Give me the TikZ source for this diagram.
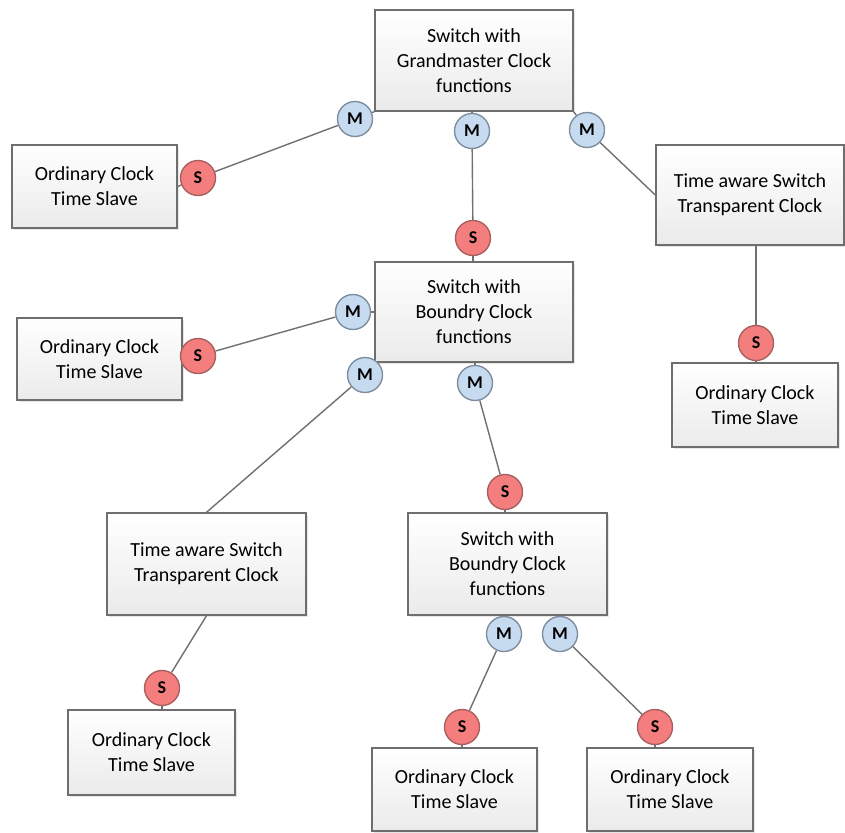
\documentclass[tikz,border=0pt]{standalone}
\usepackage{fontspec}
\setmainfont{Carlito}
\usetikzlibrary{shadows}
\pgfdeclarelayer{bg}
\pgfsetlayers{bg,main}
\definecolor{boxline}{HTML}{6E6E6E}
\definecolor{mfill}{HTML}{C7DBF0}
\definecolor{mline}{HTML}{7F8E9E}
\definecolor{sfill}{HTML}{F47E7E}
\definecolor{sline}{HTML}{A86060}
\definecolor{conn}{HTML}{707070}
\begin{document}
\begin{tikzpicture}[x=1pt,y=-1pt,
  clockbox/.style={draw=boxline, line width=1.4pt, top color=white, bottom color=gray!16,
    minimum width=#1, align=center, inner sep=0pt,
    font=\fontsize{20}{25}\selectfont,
    drop shadow={opacity=0.2, shadow xshift=1.5pt, shadow yshift=-1.5pt}},
  mport/.style={circle, draw=mline, line width=1.4pt, fill=mfill, minimum size=35pt, inner sep=0pt,
    font=\fontsize{18}{18}\selectfont\bfseries},
  sport/.style={circle, draw=sline, line width=1.4pt, fill=sfill, minimum size=35pt, inner sep=0pt,
    font=\fontsize{18}{18}\selectfont\bfseries},
  link/.style={draw=conn, line width=1.4pt}]
\useasboundingbox (0,0) rectangle (845,832);
% boxes
\node[clockbox=198pt, minimum height=101pt] (gm) at (474,60.5) {Switch with\\Grandmaster Clock\\functions};
\node[clockbox=165pt, minimum height=83pt] (oc1) at (94.5,186.5) {Ordinary Clock\\Time Slave};
\node[clockbox=188pt, minimum height=100pt] (ta1) at (750,195) {Time aware Switch\\Transparent Clock};
\node[clockbox=198pt, minimum height=100pt] (bc1) at (474,312) {Switch with\\Boundry Clock\\functions};
\node[clockbox=165pt, minimum height=82pt] (oc2) at (99.5,359) {Ordinary Clock\\Time Slave};
\node[clockbox=166pt, minimum height=84pt] (oc3) at (755,405) {Ordinary Clock\\Time Slave};
\node[clockbox=199pt, minimum height=102pt] (ta2) at (206.5,564) {Time aware Switch\\Transparent Clock};
\node[clockbox=199pt, minimum height=102pt] (bc2) at (507.5,564) {Switch with\\Boundry Clock\\functions};
\node[clockbox=167pt, minimum height=85pt] (oc4) at (151.5,752.5) {Ordinary Clock\\Time Slave};
\node[clockbox=165pt, minimum height=83pt] (oc5) at (454.5,789.5) {Ordinary Clock\\Time Slave};
\node[clockbox=166pt, minimum height=83pt] (oc6) at (670,789.5) {Ordinary Clock\\Time Slave};
% ports
\node[mport] (m1) at (355,119) {M};
\node[mport] (m2) at (472,131) {M};
\node[mport] (m3) at (587,130) {M};
\node[sport] (s1) at (198,178) {S};
\node[sport] (s2) at (473,238) {S};
\node[sport] (s3) at (756,343) {S};
\node[mport] (m4) at (353,312) {M};
\node[mport] (m5) at (365,375) {M};
\node[mport] (m6) at (475,383) {M};
\node[sport] (s4) at (198,356) {S};
\node[sport] (s5) at (505,492) {S};
\node[sport] (s6) at (162,688) {S};
\node[mport] (m7) at (504,634) {M};
\node[mport] (m8) at (560,634) {M};
\node[sport] (s7) at (462,727) {S};
\node[sport] (s8) at (655,727) {S};
% connectors
\begin{pgfonlayer}{bg}
\draw[link] (gm.south west) -- (m1);
\draw[link] (m1) -- (s1);
\draw[link] (s1) -- (oc1.east);
\draw[link] (gm.south -| m2) -- (m2);
\draw[link] (m2) -- (s2);
\draw[link] (s2) -- (bc1.north -| s2);
\draw[link] (gm.south east) -- (m3);
\draw[link] (m3) -- (ta1.west);
\draw[link] (ta1.south -| s3) -- (s3);
\draw[link] (s3) -- (oc3.north -| s3);
\draw[link] (bc1.west |- m4) -- (m4);
\draw[link] (m4) -- (s4);
\draw[link] (s4) -- (oc2.east);
\draw[link] (bc1.south west) -- (m5);
\draw[link] (m5) -- (ta2.north);
\draw[link] (bc1.south -| m6) -- (m6);
\draw[link] (m6) -- (s5);
\draw[link] (s5) -- (bc2.north -| s5);
\draw[link] (ta2.south) -- (s6);
\draw[link] (s6) -- (oc4.north -| s6);
\draw[link] (bc2.south -| m7) -- (m7);
\draw[link] (bc2.south -| m8) -- (m8);
\draw[link] (m7) -- (s7);
\draw[link] (m8) -- (s8);
\draw[link] (s7) -- (oc5.north -| s7);
\draw[link] (s8) -- (oc6.north -| s8);
\end{pgfonlayer}
\end{tikzpicture}
\end{document}
